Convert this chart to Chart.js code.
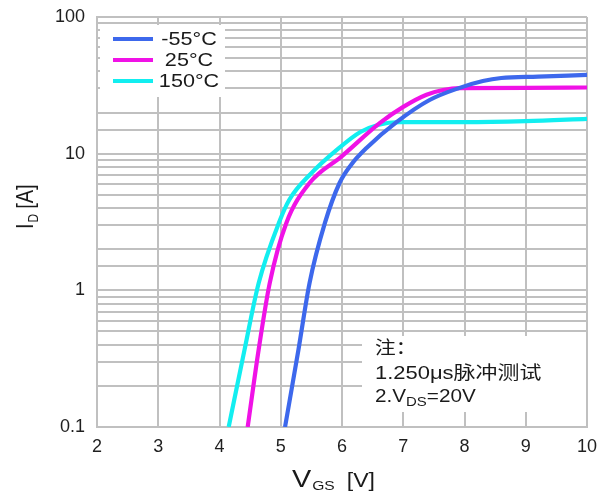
<!DOCTYPE html>
<html>
<head>
<meta charset="utf-8">
<script src="https://cdn.jsdelivr.net/npm/chart.js@4.4.1/dist/chart.umd.min.js"></script>
<style>
html, body { margin: 0; padding: 0; background: #fff; }
#wrap { width: 611px; height: 500px; }
</style>
</head>
<body>
<div id="wrap"><canvas id="id_chart"></canvas></div>
<script>
// transfer curves, VGS [V] -> ID [A]
var labels = ['-55°C', '25°C', '150°C'],
	colors = ['#3d68ec', '#f012e6', '#12eef0'],
	vgsCold = [5.07, 5.29, 5.47, 5.72, 5.96, 6.15, 6.4, 6.89, 7.43, 7.92, 8.3, 8.6, 9.2, 10],
	idCold = [0.1, 0.37, 1.13, 3.1, 6.1, 8.3, 11, 17, 24.7, 30.3, 34, 35.8, 36.6, 37.7],
	vgsRoom = [4.46, 4.64, 4.82, 5.09, 5.47, 6.0, 6.62, 7.0, 7.38, 7.65, 7.92, 9, 10],
	idRoom = [0.1, 0.37, 1.13, 3.1, 6.1, 9.6, 16.8, 22, 27, 29.2, 30.2, 30.3, 30.5],
	vgsHot = [4.15, 4.41, 4.64, 4.98, 5.14, 5.5, 5.91, 6.3, 6.6, 6.94, 8, 9, 10],
	idHot = [0.1, 0.37, 1.13, 3.2, 4.6, 7.2, 10.6, 14.4, 16.3, 17, 17, 17.3, 18],
	xTicks = [2, 10],
	yTicks = [0.1, 100],
	noteLines = ['注：', '1.250μs脉冲测试'];

var FONT = "'Liberation Sans', Arial, 'Noto Sans CJK SC', sans-serif";
var GRID = '#c0c0c0';

function pts(xs, ys) {
	return xs.map(function(v, i) { return { x: v, y: ys[i] }; });
}

// draws text stretched along x, returns drawn width
function sText(ctx, text, x, y, sx) {
	ctx.save();
	ctx.translate(x, y);
	ctx.scale(sx, 1);
	ctx.textAlign = 'left';
	ctx.fillText(text, 0, 0);
	var w = ctx.measureText(text).width * sx;
	ctx.restore();
	return w;
}

var overlay = {
	id: 'overlay',
	afterDatasetsDraw: function(chart) {
		const ctx = chart.ctx;
		ctx.save();
		ctx.textBaseline = 'middle';

		// legend box
		ctx.fillStyle = '#fff';
		ctx.fillRect(100, 25, 125, 72);
		var rows = [39, 60, 81];
		for (let i = 0; i < labels.length; i++) {
			ctx.strokeStyle = colors[i];
			ctx.lineWidth = 4;
			ctx.beginPath();
			ctx.moveTo(113, rows[i]);
			ctx.lineTo(153, rows[i]);
			ctx.stroke();
			ctx.fillStyle = '#1a1a1a';
			ctx.font = '18px ' + FONT;
			var w = ctx.measureText(labels[i]).width * 1.2;
			sText(ctx, labels[i], 189 - w / 2, rows[i] + 1, 1.2);
		}

		// note box
		ctx.fillStyle = '#fff';
		ctx.fillRect(362, 336, 224, 76);
		ctx.fillStyle = '#1a1a1a';
		ctx.font = '18px ' + FONT;
		sText(ctx, noteLines[0], 375, 349, 1.15);
		sText(ctx, noteLines[1], 375, 374, 1.22);
		var x = 375;
		x += sText(ctx, '2.V', x, 397, 1.15);
		ctx.font = '13px ' + FONT;
		x += sText(ctx, 'DS', x, 402, 1.15);
		ctx.font = '18px ' + FONT;
		sText(ctx, '=20V', x, 397, 1.15);

		// x title
		ctx.textBaseline = 'alphabetic';
		ctx.font = '24px ' + FONT;
		x = 292;
		x += sText(ctx, 'V', x, 487, 1.2);
		ctx.font = '13px ' + FONT;
		x += sText(ctx, 'GS', x + 1, 490, 1.2);
		ctx.font = '21px ' + FONT;
		sText(ctx, '[V]', x + 13, 487, 1.1);

		// y title (rotated)
		ctx.save();
		ctx.translate(33, 229);
		ctx.rotate(-Math.PI / 2);
		ctx.scale(1, 1.2);
		ctx.font = '20px ' + FONT;
		ctx.fillText('I', 0, 0);
		var p = ctx.measureText('I').width + 1;
		ctx.font = '12px ' + FONT;
		ctx.fillText('D', p, 4);
		p += ctx.measureText('D').width + 5;
		ctx.font = '20px ' + FONT;
		ctx.fillText('[A]', p, 0);
		ctx.restore();

		ctx.restore();
	}
};

var config = {
	type: 'line',
	data: {
		datasets: [
			{ label: labels[0], data: pts(vgsCold, idCold), borderColor: colors[0] },
			{ label: labels[1], data: pts(vgsRoom, idRoom), borderColor: colors[1] },
			{ label: labels[2], data: pts(vgsHot, idHot), borderColor: colors[2] }
		]
	},
	options: {
		responsive: true,
		maintainAspectRatio: false,
		animation: false,
		layout: { padding: { top: 17, right: 24, left: 0, bottom: 0 } },
		elements: {
			line: { borderWidth: 4.2, tension: 0.4, cubicInterpolationMode: 'monotone' },
			point: { radius: 0 }
		},
		plugins: {
			legend: { display: false },
			tooltip: { enabled: false }
		},
		scales: {
			x: {
				type: 'linear',
				min: xTicks[0],
				max: xTicks[1],
				afterFit: function(scale) {
					scale.height = 73;
					scale.paddingLeft = 0;
					scale.paddingRight = 0;
				},
				grid: { color: GRID, lineWidth: 2, drawTicks: false },
				border: { color: GRID, width: 2 },
				ticks: {
					stepSize: 1,
					padding: 9,
					color: '#1f1f1f',
					font: { family: FONT, size: 18 }
				}
			},
			y: {
				type: 'logarithmic',
				min: yTicks[0],
				max: yTicks[1],
				afterFit: function(scale) {
					scale.width = 97;
					scale.paddingTop = 0;
					scale.paddingBottom = 0;
				},
				grid: { color: GRID, lineWidth: 2, drawTicks: false },
				border: { color: GRID, width: 2 },
				ticks: {
					autoSkip: false,
					padding: 12,
					color: '#1f1f1f',
					font: { family: FONT, size: 18 },
					callback: function(value) {
						var l = Math.log10(value);
						if (Math.abs(l - Math.round(l)) < 1e-6) {
							return value < 1 ? value.toFixed(1) : String(Math.round(value));
						}
						return '';
					}
				}
			}
		}
	},
	plugins: [overlay]
};

new Chart(document.getElementById('id_chart').getContext('2d'), config);
</script>
</body>
</html>
